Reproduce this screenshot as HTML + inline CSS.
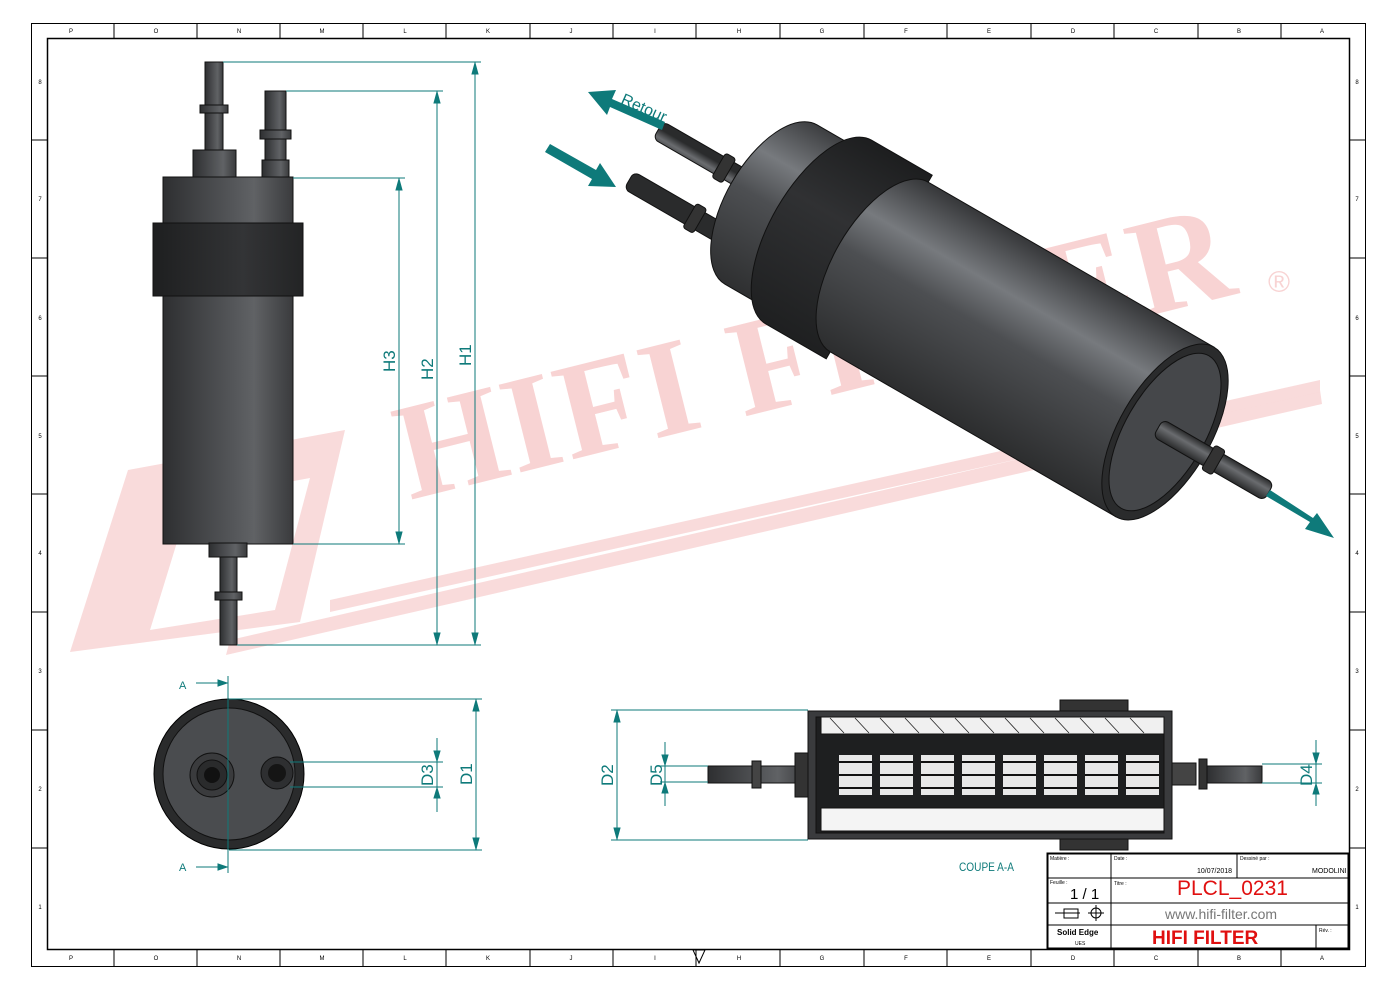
<!DOCTYPE html>
<html><head><meta charset="utf-8"><style>
html,body{margin:0;padding:0;background:#fff}
svg{display:block}
</style></head><body>
<svg width="1400" height="991" viewBox="0 0 1400 991" xmlns="http://www.w3.org/2000/svg" font-family="Liberation Sans, sans-serif">
<defs>
<linearGradient id="gv" x1="0" y1="0" x2="1" y2="0">
<stop offset="0" stop-color="#2e2f31"/><stop offset="0.55" stop-color="#55575a"/><stop offset="0.7" stop-color="#606265"/><stop offset="1" stop-color="#3a3b3d"/></linearGradient>
<linearGradient id="gb" x1="0" y1="0" x2="1" y2="0">
<stop offset="0" stop-color="#1e1f20"/><stop offset="0.6" stop-color="#333436"/><stop offset="1" stop-color="#232425"/></linearGradient>
<linearGradient id="gi" gradientUnits="userSpaceOnUse" x1="0" y1="-105" x2="0" y2="105">
<stop offset="0" stop-color="#2e2f31"/><stop offset="0.3" stop-color="#777a7e"/><stop offset="0.5" stop-color="#4d4f52"/><stop offset="1" stop-color="#2a2b2c"/></linearGradient>
<linearGradient id="gib" gradientUnits="userSpaceOnUse" x1="0" y1="-110" x2="0" y2="110">
<stop offset="0" stop-color="#1c1d1e"/><stop offset="0.4" stop-color="#303133"/><stop offset="1" stop-color="#1e1f20"/></linearGradient>
<linearGradient id="gp" gradientUnits="userSpaceOnUse" x1="0" y1="-10" x2="0" y2="10">
<stop offset="0" stop-color="#2a2b2c"/><stop offset="0.4" stop-color="#6a6c6f"/><stop offset="1" stop-color="#2a2b2c"/></linearGradient>
</defs>

<!-- watermark -->
<g opacity="0.5">
<polygon points="70,652 128,470 345,430 300,622" fill="#f4b8b8"/>
<polygon points="150,630 190,500 310,478 275,610" fill="#fff"/>
<polygon points="230,640 1320,390 1322,404 226,655" fill="#f4b8b8"/>
<polygon points="330,600 1320,380 1320,392 330,612" fill="#f4b8b8"/>
<text x="410" y="500" transform="rotate(-14 410 500)" style="font-family:'Liberation Serif',serif;font-weight:bold" font-size="138" fill="#f2a8a8" letter-spacing="2">HIFI FILTER</text>
<text x="1268" y="292" font-size="30" fill="#f2a8a8">®</text>
</g>

<!-- borders -->
<rect x="31.5" y="23.5" width="1334" height="943" fill="none" stroke="#000" stroke-width="1"/>
<rect x="47.5" y="38.5" width="1302" height="911" fill="none" stroke="#000" stroke-width="1.5"/>
<g stroke="#000" stroke-width="1">
<line x1="114" y1="23" x2="114" y2="38"/><line x1="197" y1="23" x2="197" y2="38"/><line x1="280" y1="23" x2="280" y2="38"/><line x1="363" y1="23" x2="363" y2="38"/><line x1="446" y1="23" x2="446" y2="38"/><line x1="530" y1="23" x2="530" y2="38"/><line x1="613" y1="23" x2="613" y2="38"/><line x1="696" y1="23" x2="696" y2="38"/><line x1="780" y1="23" x2="780" y2="38"/><line x1="864" y1="23" x2="864" y2="38"/><line x1="947" y1="23" x2="947" y2="38"/><line x1="1031" y1="23" x2="1031" y2="38"/><line x1="1114" y1="23" x2="1114" y2="38"/><line x1="1198" y1="23" x2="1198" y2="38"/><line x1="1281" y1="23" x2="1281" y2="38"/>
<line x1="114" y1="949" x2="114" y2="966"/><line x1="197" y1="949" x2="197" y2="966"/><line x1="280" y1="949" x2="280" y2="966"/><line x1="363" y1="949" x2="363" y2="966"/><line x1="446" y1="949" x2="446" y2="966"/><line x1="530" y1="949" x2="530" y2="966"/><line x1="613" y1="949" x2="613" y2="966"/><line x1="696" y1="949" x2="696" y2="966"/><line x1="780" y1="949" x2="780" y2="966"/><line x1="864" y1="949" x2="864" y2="966"/><line x1="947" y1="949" x2="947" y2="966"/><line x1="1031" y1="949" x2="1031" y2="966"/><line x1="1114" y1="949" x2="1114" y2="966"/><line x1="1198" y1="949" x2="1198" y2="966"/><line x1="1281" y1="949" x2="1281" y2="966"/>
<line x1="31" y1="140" x2="47" y2="140"/><line x1="31" y1="258" x2="47" y2="258"/><line x1="31" y1="376" x2="47" y2="376"/><line x1="31" y1="494" x2="47" y2="494"/><line x1="31" y1="612" x2="47" y2="612"/><line x1="31" y1="730" x2="47" y2="730"/><line x1="31" y1="848" x2="47" y2="848"/>
<line x1="1349" y1="140" x2="1365" y2="140"/><line x1="1349" y1="258" x2="1365" y2="258"/><line x1="1349" y1="376" x2="1365" y2="376"/><line x1="1349" y1="494" x2="1365" y2="494"/><line x1="1349" y1="612" x2="1365" y2="612"/><line x1="1349" y1="730" x2="1365" y2="730"/><line x1="1349" y1="848" x2="1365" y2="848"/>
</g>
<g font-size="6" fill="#000" text-anchor="middle">
<text x="71" y="960">P</text><text x="156" y="960">O</text><text x="239" y="960">N</text><text x="322" y="960">M</text><text x="405" y="960">L</text><text x="488" y="960">K</text><text x="571" y="960">J</text><text x="655" y="960">I</text><text x="739" y="960">H</text><text x="822" y="960">G</text><text x="906" y="960">F</text><text x="989" y="960">E</text><text x="1073" y="960">D</text><text x="1156" y="960">C</text><text x="1239" y="960">B</text><text x="1322" y="960">A</text>
<text x="71" y="33">P</text><text x="156" y="33">O</text><text x="239" y="33">N</text><text x="322" y="33">M</text><text x="405" y="33">L</text><text x="488" y="33">K</text><text x="571" y="33">J</text><text x="655" y="33">I</text><text x="739" y="33">H</text><text x="822" y="33">G</text><text x="906" y="33">F</text><text x="989" y="33">E</text><text x="1073" y="33">D</text><text x="1156" y="33">C</text><text x="1239" y="33">B</text><text x="1322" y="33">A</text>
<text x="1357" y="84">8</text><text x="1357" y="201">7</text><text x="1357" y="320">6</text><text x="1357" y="438">5</text><text x="1357" y="555">4</text><text x="1357" y="673">3</text><text x="1357" y="791">2</text><text x="1357" y="909">1</text>
<text x="40" y="84">8</text><text x="40" y="201">7</text><text x="40" y="320">6</text><text x="40" y="438">5</text><text x="40" y="555">4</text><text x="40" y="673">3</text><text x="40" y="791">2</text><text x="40" y="909">1</text>
</g>
<polygon points="693,950 705,950 699,963" fill="none" stroke="#000"/>

<!-- front view -->
<g stroke="#111" stroke-width="1">
<rect x="205" y="62" width="18" height="90" fill="url(#gv)"/>
<rect x="200" y="105" width="28" height="8" fill="url(#gv)"/>
<rect x="265" y="91" width="21" height="70" fill="url(#gv)"/>
<rect x="260" y="130" width="31" height="9" fill="url(#gv)"/>
<rect x="193" y="150" width="43" height="28" fill="url(#gv)"/>
<rect x="262" y="160" width="27" height="18" fill="url(#gv)"/>
<rect x="163" y="177" width="130" height="367" fill="url(#gv)"/>
<rect x="153" y="223" width="150" height="73" fill="url(#gb)"/>
<rect x="209" y="543" width="38" height="14" fill="url(#gv)"/>
<rect x="220" y="557" width="17" height="88" fill="url(#gv)"/>
<rect x="215" y="592" width="27" height="8" fill="url(#gv)"/>
</g>
<g stroke="#0e7a7a" stroke-width="1" fill="#0e7a7a">
<line x1="223" y1="62" x2="481" y2="62"/><line x1="286" y1="91" x2="443" y2="91"/><line x1="293" y1="178" x2="405" y2="178"/><line x1="293" y1="544" x2="405" y2="544"/><line x1="237" y1="645" x2="481" y2="645"/>
<line x1="475" y1="62" x2="475" y2="645"/><line x1="437" y1="91" x2="437" y2="645"/><line x1="399" y1="178" x2="399" y2="544"/>
<polygon points="472,74 478,74 475,63"/><polygon points="472,633 478,633 475,644"/>
<polygon points="434,103 440,103 437,92"/><polygon points="434,633 440,633 437,644"/>
<polygon points="396,190 402,190 399,179"/><polygon points="396,532 402,532 399,543"/>
</g>
<g font-size="17" fill="#0e7a7a">
<text transform="translate(471,366) rotate(-90)">H1</text>
<text transform="translate(433,380) rotate(-90)">H2</text>
<text transform="translate(395,372) rotate(-90)">H3</text>
</g>

<!-- end view -->
<circle cx="229" cy="774" r="75" fill="#2a2b2c" stroke="#000"/>
<circle cx="229" cy="774" r="66" fill="#4a4c4f" stroke="#111"/>
<circle cx="212" cy="775" r="22" fill="#3a3b3d" stroke="#111"/>
<circle cx="212" cy="775" r="15" fill="#2a2b2c" stroke="#111"/>
<circle cx="212" cy="775" r="8" fill="#111"/>
<circle cx="277" cy="773" r="16" fill="#2e2f31" stroke="#111"/>
<circle cx="277" cy="773" r="9" fill="#151515"/>
<g stroke="#0e7a7a" stroke-width="1" fill="#0e7a7a">
<line x1="228" y1="676" x2="228" y2="873"/>
<line x1="196" y1="683" x2="228" y2="683"/><polygon points="218,680 218,686 227,683"/>
<line x1="196" y1="867" x2="228" y2="867"/><polygon points="218,864 218,870 227,867"/>
<line x1="229" y1="699" x2="482" y2="699"/><line x1="229" y1="850" x2="482" y2="850"/>
<line x1="290" y1="762" x2="443" y2="762"/><line x1="290" y1="787" x2="443" y2="787"/>
<line x1="476" y1="699" x2="476" y2="850"/><polygon points="473,711 479,711 476,700"/><polygon points="473,838 479,838 476,849"/>
<line x1="437" y1="738" x2="437" y2="812"/><polygon points="434,751 440,751 437,761"/><polygon points="434,798 440,798 437,788"/>
</g>
<g fill="#0e7a7a"><text x="179" y="689" font-size="11">A</text><text x="179" y="871" font-size="11">A</text>
<text transform="translate(472,785) rotate(-90)" font-size="17">D1</text>
<text transform="translate(433,786) rotate(-90)" font-size="17">D3</text></g>

<!-- isometric -->
<g transform="translate(1165,432) rotate(30)">
<rect x="-590" y="40" width="150" height="20" rx="6" fill="url(#gp)" stroke="#111"/>
<rect x="-520" y="36" width="12" height="28" rx="3" fill="#333" stroke="#111"/>
<rect x="-590" y="-18" width="150" height="20" rx="6" fill="url(#gp)" stroke="#111"/>
<rect x="-520" y="-22" width="12" height="28" rx="3" fill="#333" stroke="#111"/>
<path d="M-455,-92 L-400,-92 L-400,92 L-455,92 A45,92 0 0 1 -455,-92Z" fill="url(#gi)" stroke="#111"/>
<path d="M-400,-106 L-330,-106 L-330,106 L-400,106 A48,106 0 0 1 -400,-106Z" fill="url(#gib)" stroke="#111"/>
<path d="M-330,-98 L0,-98 L0,98 L-330,98 A46,98 0 0 1 -330,-98Z" fill="url(#gi)" stroke="#111"/>
<ellipse cx="0" cy="0" rx="46" ry="98" fill="#2a2b2c" stroke="#111"/>
<ellipse cx="0" cy="0" rx="40" ry="88" fill="#45474a" stroke="#111"/>
<rect x="-8" y="-10" width="128" height="20" rx="6" fill="url(#gp)" stroke="#111"/>
<rect x="50" y="-14" width="12" height="28" rx="3" fill="#333" stroke="#111"/>
</g>
<g fill="#0e7a7a">
<polygon points="665,122 612,99 616,90 588,92 607,115 610,107 662,130"/>
<polygon points="545,152 592,179 588,186 616,187 600,163 596,170 550,144"/>
<polygon points="1266,496 1310,522 1305,529 1334,538 1317,513 1313,518 1270,490"/>
<text transform="translate(620,103) rotate(24)" font-size="16">Retour</text>
</g>

<!-- section view -->
<g stroke="#111" stroke-width="1">
<rect x="708" y="766" width="100" height="17" fill="url(#gv)"/>
<rect x="752" y="761" width="9" height="27" fill="#444"/>
<rect x="795" y="753" width="26" height="44" fill="#333"/>
<rect x="1060" y="700" width="68" height="12" fill="#333"/>
<rect x="1060" y="838" width="68" height="12" fill="#333"/>
<rect x="808" y="711" width="364" height="128" fill="#3a3b3d"/>
<rect x="816" y="717" width="348" height="116" fill="#1e1f20"/>
<rect x="821" y="717" width="343" height="17" fill="#f0f0f0"/>
<rect x="821" y="808" width="343" height="23" fill="#f4f4f4"/>
<rect x="1172" y="763" width="24" height="22" fill="#444"/>
<rect x="1199" y="759" width="8" height="30" fill="#333"/>
<rect x="1207" y="766" width="55" height="17" fill="url(#gv)"/>
</g>
<g stroke="#222" stroke-width="0.8">
<path d="M830,718l14,15M855,718l14,15M880,718l14,15M905,718l14,15M930,718l14,15M955,718l14,15M980,718l14,15M1005,718l14,15M1030,718l14,15M1055,718l14,15M1080,718l14,15M1105,718l14,15M1130,718l14,15"/>
</g>
<g fill="#e8e8e8">
<rect x="839" y="755" width="33" height="40"/><rect x="880" y="755" width="33" height="40"/><rect x="921" y="755" width="33" height="40"/><rect x="962" y="755" width="33" height="40"/><rect x="1003" y="755" width="33" height="40"/><rect x="1044" y="755" width="33" height="40"/><rect x="1085" y="755" width="33" height="40"/><rect x="1126" y="755" width="33" height="40"/>
</g>
<g stroke="#111" stroke-width="2">
<path d="M839,762h33M880,762h33M921,762h33M962,762h33M1003,762h33M1044,762h33M1085,762h33M1126,762h33M839,775h33M880,775h33M921,775h33M962,775h33M1003,775h33M1044,775h33M1085,775h33M1126,775h33M839,788h33M880,788h33M921,788h33M962,788h33M1003,788h33M1044,788h33M1085,788h33M1126,788h33"/>
</g>
<g stroke="#0e7a7a" stroke-width="1" fill="#0e7a7a">
<line x1="611" y1="710" x2="808" y2="710"/><line x1="611" y1="840" x2="808" y2="840"/>
<line x1="617" y1="710" x2="617" y2="840"/><polygon points="614,722 620,722 617,711"/><polygon points="614,828 620,828 617,839"/>
<line x1="660" y1="766" x2="708" y2="766"/><line x1="660" y1="782" x2="708" y2="782"/>
<line x1="665" y1="742" x2="665" y2="806"/><polygon points="662,755 668,755 665,765"/><polygon points="662,793 668,793 665,783"/>
<line x1="1262" y1="764" x2="1322" y2="764"/><line x1="1262" y1="783" x2="1322" y2="783"/>
<line x1="1316" y1="740" x2="1316" y2="806"/><polygon points="1313,753 1319,753 1316,763"/><polygon points="1313,794 1319,794 1316,784"/>
</g>
<g fill="#0e7a7a">
<text transform="translate(613,786) rotate(-90)" font-size="17">D2</text>
<text transform="translate(662,786) rotate(-90)" font-size="17">D5</text>
<text transform="translate(1312,786) rotate(-90)" font-size="17">D4</text>
<text x="959" y="871" font-size="12" textLength="55" lengthAdjust="spacingAndGlyphs">COUPE A-A</text>
</g>

<!-- title block -->
<g stroke="#000" fill="none">
<rect x="1047.5" y="853.5" width="301" height="95" stroke-width="2"/>
<line x1="1111" y1="853" x2="1111" y2="949"/>
<line x1="1237" y1="853" x2="1237" y2="878"/>
<line x1="1047" y1="878" x2="1349" y2="878"/>
<line x1="1047" y1="903" x2="1349" y2="903"/>
<line x1="1047" y1="925" x2="1349" y2="925"/>
<line x1="1316" y1="925" x2="1316" y2="949"/>
<line x1="1055" y1="913" x2="1080" y2="913"/><rect x="1064" y="909" width="14" height="9"/>
<circle cx="1096" cy="913" r="5"/><line x1="1088" y1="913" x2="1104" y2="913"/><line x1="1096" y1="905" x2="1096" y2="921"/>
</g>
<g font-size="5" fill="#000">
<text x="1050" y="860">Matière :</text><text x="1114" y="860">Date :</text><text x="1240" y="860">Dessiné par :</text>
<text x="1050" y="884">Feuille :</text><text x="1114" y="885">Titre :</text><text x="1319" y="932">Rév. :</text>
</g>
<text x="1197" y="873" font-size="7" fill="#000">10/07/2018</text>
<text x="1312" y="873" font-size="7" fill="#000">MODOLINI</text>
<text x="1070" y="899" font-size="15" fill="#000">1 / 1</text>
<text x="1177" y="895" font-size="21" fill="#e01010">PLCL_0231</text>
<text x="1165" y="919" font-size="14" fill="#777">www.hifi-filter.com</text>
<text x="1057" y="935" font-size="8" font-weight="bold" fill="#000">Solid Edge</text>
<text x="1075" y="945" font-size="5" fill="#000">UES</text>
<text x="1152" y="944" font-size="19" font-weight="bold" fill="#e01010">HIFI FILTER</text>
</svg>
</body></html>
